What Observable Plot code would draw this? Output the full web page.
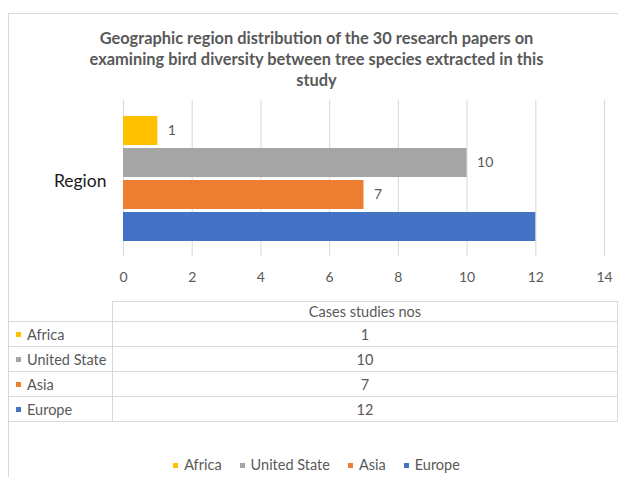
<!DOCTYPE html>
<html>
<head>
<meta charset="utf-8">
<script src="https://cdn.jsdelivr.net/npm/d3@7"></script>
<script src="https://cdn.jsdelivr.net/npm/@observablehq/plot@0.6"></script>
<style>
  html, body { margin: 0; padding: 0; background: #fff; }
  body { width: 618px; height: 477px; overflow: hidden; position: relative; font-family: Lato, "Open Sans", sans-serif; color: #595959; }
  #frame { position: absolute; left: 8px; top: 13px; width: 640px; height: 500px; border: 1px solid #d9d9d9; box-sizing: border-box; }
  #title { position: absolute; left: 8px; width: 617px; top: 27px; text-align: center; font-weight: bold; font-size: 16.4px; line-height: 21px; color: #595959; }
  #chart { position: absolute; left: 0; top: 95px; }
  #table { position: absolute; left: 8px; top: 301px; border-collapse: collapse; font-size: 14.5px; color: #595959; }
  #table td { border: 1px solid #d9d9d9; padding: 0; box-sizing: border-box; }
  #table td.lab { width: 104px; padding-left: 7px; text-align: left; white-space: nowrap; }
  #table td.val { width: 513px; text-align: center; }
  #table tr.head td { height: 20px; }
  #table tr.row td { height: 25px; }
  .sw { display: inline-block; width: 5px; height: 5px; margin-right: 6px; vertical-align: middle; position: relative; top: -1px; }
  #legend { position: absolute; left: 8px; width: 617px; top: 456px; display: flex; justify-content: center; gap: 18px; font-size: 14.5px; color: #595959; }
  #legend .sw { width: 5px; height: 5px; }
</style>
</head>
<body>
<div id="frame"></div>
<div id="title">Geographic region distribution of the 30 research papers on<br>examining bird diversity between tree species extracted in this<br>study</div>
<div id="chart"></div>
<table id="table"></table>
<div id="legend"></div>
<script>
const regions = ["Africa", "United State", "Asia", "Europe"];
const values = [1, 10, 7, 12];
const dataLabels = ["1", "10", "7", ""];
const colors = ["#FFC000", "#A5A5A5", "#ED7D31", "#4472C4"];
const xTicks = [0, 2, 4, 6, 8, 10, 12, 14];
const categoryLabel = ["Region"];
const seriesName = "Cases studies nos";

const data = regions.map((r, i) => ({region: r, value: values[i], label: dataLabels[i]}));

const chart = Plot.plot({
  width: 618,
  height: 200,
  marginLeft: 123,
  marginRight: 14,
  marginTop: 5,
  marginBottom: 39,
  style: {fontFamily: "Lato, 'Open Sans', sans-serif", background: "transparent"},
  x: {domain: [0, 14], axis: null, label: null},
  y: {domain: regions, paddingInner: 0.094, paddingOuter: 0.484, axis: null},
  color: {domain: regions, range: colors},
  marks: [
    Plot.ruleX(xTicks, {stroke: "#d9d9d9", strokeWidth: 1}),
    Plot.barX(data, {x: "value", y: "region", fill: "region"}),
    Plot.text(data.filter(d => d.label !== ""), {x: "value", y: "region", text: "label", textAnchor: "start", dx: 10, fontSize: 14, fill: "#595959"}),
    Plot.axisX(xTicks, {tickSize: 0, tickPadding: 16, fontSize: 14, color: "#595959", fill: "#595959", label: null}),
    Plot.text(categoryLabel, {frameAnchor: "left", textAnchor: "end", dx: -17, dy: 3, fontSize: 17.5, fill: "#1a1a1a"})
  ]
});
document.getElementById("chart").appendChild(chart);

// data table
const table = d3.select("#table");
const head = table.append("tr").attr("class", "head");
head.append("td").attr("class", "lab").style("border-top", "none").style("border-left", "none");
head.append("td").attr("class", "val").text(seriesName);
regions.forEach((r, i) => {
  const tr = table.append("tr").attr("class", "row");
  const td = tr.append("td").attr("class", "lab");
  td.append("span").attr("class", "sw").style("background", colors[i]);
  td.append("span").text(r);
  tr.append("td").attr("class", "val").text(values[i]);
});

// legend
const legend = d3.select("#legend");
regions.forEach((r, i) => {
  const item = legend.append("div");
  item.append("span").attr("class", "sw").style("background", colors[i]);
  item.append("span").text(r);
});
</script>
</body>
</html>
